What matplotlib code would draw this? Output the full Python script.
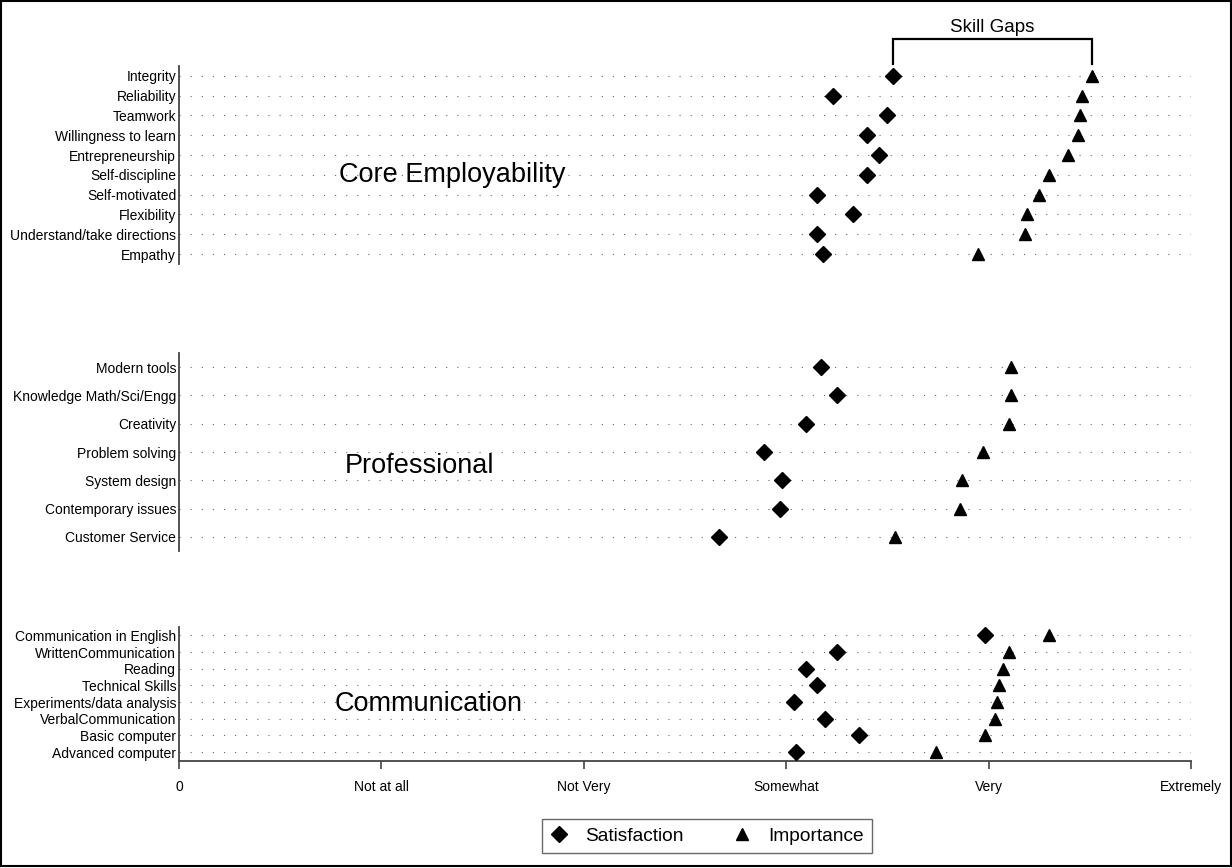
import matplotlib
matplotlib.use('Agg')
import matplotlib.pyplot as plt
from matplotlib.lines import Line2D
from matplotlib.patches import Rectangle

plt.rcParams['font.family'] = ['Liberation Sans', 'DejaVu Sans']

# ---- data ----
x_ticklabels = ['0', 'Not at all', 'Not Very', 'Somewhat', 'Very', 'Extremely']

core_skills = ['Integrity', 'Reliability', 'Teamwork', 'Willingness to learn', 'Entrepreneurship',
               'Self-discipline', 'Self-motivated', 'Flexibility', 'Understand/take directions', 'Empathy']
core_sat = [3.53, 3.23, 3.50, 3.40, 3.46, 3.40, 3.15, 3.33, 3.15, 3.18]
core_imp = [4.51, 4.46, 4.45, 4.44, 4.39, 4.30, 4.25, 4.19, 4.18, 3.95]

prof_skills = ['Modern tools', 'Knowledge Math/Sci/Engg', 'Creativity', 'Problem solving',
               'System design', 'Contemporary issues', 'Customer Service']
prof_sat = [3.17, 3.25, 3.10, 2.89, 2.98, 2.97, 2.67]
prof_imp = [4.11, 4.11, 4.10, 3.97, 3.87, 3.86, 3.54]

comm_skills = ['Communication in English', 'WrittenCommunication', 'Reading', 'Technical Skills',
               'Experiments/data analysis', 'VerbalCommunication', 'Basic computer', 'Advanced computer']
comm_sat = [3.98, 3.25, 3.10, 3.15, 3.04, 3.19, 3.36, 3.05]
comm_imp = [4.30, 4.10, 4.07, 4.05, 4.04, 4.03, 3.98, 3.74]

groups = [
    ('Core Employability', core_skills, core_sat, core_imp),
    ('Professional', prof_skills, prof_sat, prof_imp),
    ('Communication', comm_skills, comm_sat, comm_imp),
]

# ---- layout ----
fig = plt.figure(figsize=(12.32, 8.68), dpi=100)
W, H = 1232, 868
x_left, x_right = 179, 1191
# (top px, bottom px) for each panel
panel_px = [(66, 264), (353, 551), (627, 760.5)]
# group title position: (x data, y data)
title_pos = [(0.79, 5), (0.82, 3.5), (0.77, 4.1)]

axes = []
for i, (name, skills, sat, imp) in enumerate(groups):
    top, bot = panel_px[i]
    ax = fig.add_axes([x_left / W, 1 - bot / H, (x_right - x_left) / W, (bot - top) / H])
    axes.append(ax)
    n = len(skills)
    ypos = list(range(n))

    # dotted guide lines
    ax.hlines(ypos, 0, 5, colors='#666666', linewidth=0.8, linestyles=(0, (1, 9)), zorder=1)
    ax.plot(sat, ypos, linestyle='none', marker='D', markersize=8, color='black', zorder=3)
    ax.plot(imp, ypos, linestyle='none', marker='^', markersize=8.5, color='black', zorder=3)

    ax.set_xlim(0, 5)
    ax.set_ylim(n - 0.5, -0.5)
    ax.set_yticks(ypos)
    ax.set_yticklabels(skills, fontsize=10)
    ax.tick_params(axis='y', length=0, pad=2)

    for s in ['top', 'right']:
        ax.spines[s].set_visible(False)
    ax.spines['left'].set_color('#444444')
    ax.spines['left'].set_linewidth(1.3)

    tx, ty = title_pos[i]
    ax.text(tx, ty, name, fontsize=19.5, ha='left', va='center', zorder=2)

    if i < 2:
        ax.spines['bottom'].set_visible(False)
        ax.set_xticks([])
    else:
        ax.spines['bottom'].set_color('#444444')
        ax.spines['bottom'].set_linewidth(1.3)
        ax.set_xticks(range(6))
        ax.set_xticklabels(x_ticklabels, fontsize=10)
        ax.tick_params(axis='x', length=6, width=1.2, color='#444444', pad=8)

# ---- skill gap bracket on the first row ----
ax1 = axes[0]
gx0, gx1 = core_sat[0], core_imp[0]
ax1.plot([gx0, gx0, gx1, gx1], [-0.6, -1.87, -1.87, -0.6], color='black', linewidth=1.6,
         clip_on=False, solid_joinstyle='miter')
ax1.text((gx0 + gx1) / 2, -2.45, 'Skill Gaps', fontsize=13.5, ha='center', va='center')

# ---- legend ----
handles = [
    Line2D([], [], linestyle='none', marker='D', markersize=8, color='black', label='Satisfaction'),
    Line2D([], [], linestyle='none', marker='^', markersize=8.5, color='black', label='Importance'),
]
leg = fig.legend(handles=handles, loc='center', bbox_to_anchor=(707 / W, 1 - 836 / H), ncol=2,
                 fontsize=13.8, frameon=True, fancybox=False, edgecolor='#444444',
                 handlelength=0.9, handletextpad=0.9, columnspacing=2.6, borderpad=0.45,
                 borderaxespad=0)
leg.get_frame().set_linewidth(1.0)

# outer frame
fig.patches.append(Rectangle((0.001, 0.002), 0.998, 0.997, transform=fig.transFigure,
                             fill=False, edgecolor='black', linewidth=1.5))

plt.savefig('out.png', dpi=100)
